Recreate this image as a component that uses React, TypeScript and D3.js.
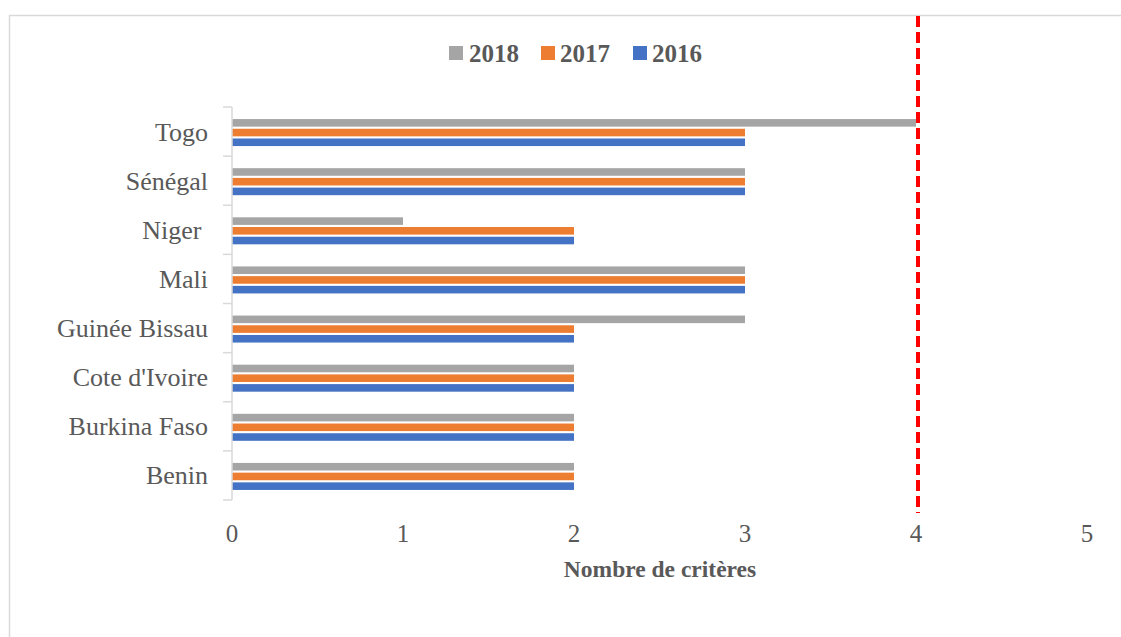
import React from "react";
import * as d3 from "d3";

const categories = ["Togo", "Sénégal", "Niger ", "Mali", "Guinée Bissau", "Cote d'Ivoire", "Burkina Faso", "Benin"];
const seriesNames = ["2018", "2017", "2016"];
const values2018 = [4, 3, 1, 3, 3, 2, 2, 2];
const values2017 = [3, 3, 2, 3, 2, 2, 2, 2];
const values2016 = [3, 3, 2, 3, 2, 2, 2, 2];
const seriesColors = ["#A5A5A5", "#ED7D31", "#4472C4"];
const xTicks = [0, 1, 2, 3, 4, 5];
const threshold = 4;
const axisTitle = "Nombre de critères";

const W = 1121;
const H = 637;
const FONT = "'Liberation Serif', 'Times New Roman', serif";

export default function App() {
  const series = [values2018, values2017, values2016];
  const x = d3.scaleLinear().domain([0, 5]).range([232, 1087]);
  const y = d3.scaleBand<string>().domain(categories).range([107, 500]);
  const mid = y.bandwidth() / 2 + 1;
  const inner = d3
    .scaleBand<string>()
    .domain(seriesNames)
    .range([mid - 13.5, mid + 13.5])
    .paddingInner(0.22);

  const legendItems = [
    { name: "2018", sq: 449, tx: 469 },
    { name: "2017", sq: 541, tx: 560 },
    { name: "2016", sq: 633, tx: 652 },
  ];

  const boundaries = categories.map((c) => y(c)!).concat([500]);

  return (
    <svg
      width={W}
      height={H}
      style={{ position: "absolute", left: 0, top: 0, background: "#fff" }}
      fontFamily={FONT}
    >
      <rect x={0} y={0} width={W} height={H} fill="#fff" />
      {/* chart border */}
      <rect x={9.5} y={15.5} width={W + 20} height={H + 20} fill="none" stroke="#D9D9D9" strokeWidth={1.5} />

      {/* legend */}
      {legendItems.map((l, i) => (
        <g key={l.name}>
          <rect x={l.sq} y={46} width={14} height={14} fill={seriesColors[i]} />
          <text x={l.tx} y={62} fontSize={25} fontWeight="bold" fill="#595959">
            {l.name}
          </text>
        </g>
      ))}

      {/* bars */}
      {categories.map((c, ci) => (
        <g key={c} transform={`translate(0,${y(c)})`}>
          {seriesNames.map((s, si) => (
            <rect
              key={s}
              x={x(0)}
              y={inner(s)}
              width={x(series[si][ci]) - x(0)}
              height={inner.bandwidth()}
              fill={seriesColors[si]}
            />
          ))}
        </g>
      ))}

      {/* y axis */}
      <line x1={232} x2={232} y1={107} y2={500} stroke="#D9D9D9" strokeWidth={1.5} />
      {boundaries.map((b, i) => (
        <line key={i} x1={223} x2={232} y1={b} y2={b} stroke="#D9D9D9" strokeWidth={1.5} />
      ))}
      {categories.map((c) => (
        <text
          key={c}
          x={208}
          y={y(c)! + y.bandwidth() / 2 + 9}
          textAnchor="end"
          fontSize={26}
          fill="#595959"
          style={{ whiteSpace: "pre" }}
        >
          {c}
        </text>
      ))}

      {/* x tick labels */}
      {xTicks.map((t) => (
        <text key={t} x={x(t)} y={542} textAnchor="middle" fontSize={25} fill="#595959">
          {t}
        </text>
      ))}
      <text x={660} y={577} textAnchor="middle" fontSize={23.5} fontWeight="bold" fill="#595959">
        {axisTitle}
      </text>

      {/* threshold line */}
      <line
        x1={x(threshold) + 2}
        x2={x(threshold) + 2}
        y1={16}
        y2={513}
        stroke="#FF0000"
        strokeWidth={4}
        strokeDasharray="11,5"
      />
    </svg>
  );
}
